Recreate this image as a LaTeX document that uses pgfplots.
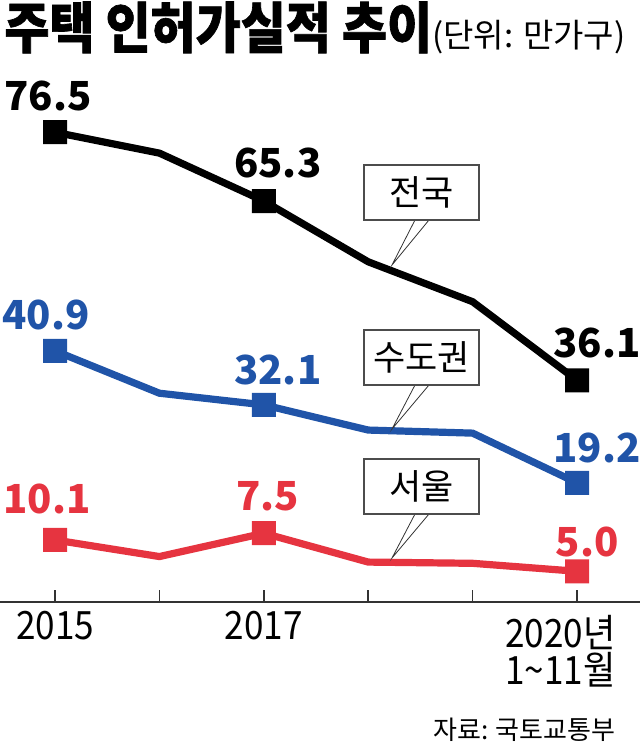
\documentclass[border=0pt]{standalone}
\usepackage{pgfplots}
\pgfplotsset{compat=1.18}
\usepackage{fontspec}
\setmainfont{Noto Sans CJK KR}
\newfontfamily\titlefont{Noto Sans CJK KR}[FakeStretch=0.89, FakeBold=1.2]
\newfontfamily\tickfont{Noto Sans CJK KR}[FakeStretch=0.9]

\definecolor{cblue}{RGB}{32,84,168}
\definecolor{cred}{RGB}{230,52,64}

% rounded square marker
\pgfdeclareplotmark{rsquare}{%
  \pgfsetcornersarced{\pgfpoint{1.6pt}{1.6pt}}%
  \pgfpathmoveto{\pgfqpoint{0pt}{-\pgfplotmarksize}}%
  \pgfpathlineto{\pgfqpoint{\pgfplotmarksize}{-\pgfplotmarksize}}%
  \pgfpathlineto{\pgfqpoint{\pgfplotmarksize}{\pgfplotmarksize}}%
  \pgfpathlineto{\pgfqpoint{-\pgfplotmarksize}{\pgfplotmarksize}}%
  \pgfpathlineto{\pgfqpoint{-\pgfplotmarksize}{-\pgfplotmarksize}}%
  \pgfpathclose
  \pgfusepathqfill}

\tikzset{
  lbl/.style={font=\fontsize{20}{24}\selectfont\bfseries, inner sep=0pt},
  callout/.style={line width=0.6pt, draw=black!70, fill=white},
}

\begin{document}
\begin{tikzpicture}
\path[use as bounding box] (0,-73.5pt) rectangle (320pt,301pt);
\begin{axis}[
  scale only axis, width=320pt, height=301pt,
  xmin=2014.473, xmax=2020.603, ymin=0, ymax=98.04,
  axis x line=bottom, axis y line=none,
  x axis line style={-, line width=0.8pt, color=black!80},
  xtick={2015,2016,2017,2018,2019,2020},
  xticklabels={2015,,2017,,,},
  xtick align=inside, major tick length=6pt,
  xtick style={line width=0.8pt, color=black!80},
  xticklabel style={font=\tickfont\fontsize{19.5}{22}\selectfont, yshift=-1pt},
  ytick=\empty,
  clip=false,
  every axis plot/.append style={line width=3.6pt, mark=rsquare,
    mark indices={1,3,6}, mark size=6pt, mark options={solid}},
]
\addplot[black] coordinates {
  (2015,76.5) (2016,73.1) (2017,65.3) (2018,55.4) (2019,48.9) (2020,36.1)
};
\addplot[cblue] coordinates {
  (2015,40.9) (2016,34.0) (2017,32.1) (2018,28.0) (2019,27.5) (2020,19.4)
};
\addplot[cred] coordinates {
  (2015,10.1) (2016,7.4) (2017,11.2) (2018,6.5) (2019,6.3) (2020,5.0)
};

\node[lbl, black, xshift=-3.5pt, yshift=18pt] at (axis cs:2015,76.5) {76.5};
\node[lbl, black, xshift=7pt, yshift=19pt] at (axis cs:2017,65.3) {65.3};
\node[lbl, black, xshift=10pt, yshift=18.5pt] at (axis cs:2020,36.1) {36.1};
\node[lbl, cblue, xshift=-4.5pt, yshift=18pt] at (axis cs:2015,40.9) {40.9};
\node[lbl, cblue, xshift=7pt, yshift=17.5pt] at (axis cs:2017,32.1) {32.1};
\node[lbl, cblue, xshift=10pt, yshift=17.5pt] at (axis cs:2020,19.4) {19.2};
\node[lbl, cred, xshift=-4pt, yshift=20.5pt] at (axis cs:2015,10.1) {10.1};
\node[lbl, cred, xshift=2pt, yshift=18.5pt] at (axis cs:2017,11.2) {7.5};
\node[lbl, cred, xshift=5pt, yshift=14.5pt] at (axis cs:2020,5.0) {5.0};
\end{axis}

% annotations in pixel units of the reference (origin top-left)
\begin{scope}[x=0.5pt, y=-0.5pt, shift={(0pt,301pt)}]
  \node[anchor=base west, inner sep=0pt] at (4,48)
    {{\titlefont\fontsize{27.5}{32}\selectfont\bfseries 주택 인허가실적 추이}{\fontsize{16.5}{18}\selectfont(단위: 만가구)}};

  \foreach \top/\tipy/\name in {165/265/전국, 330/429/수도권, 459/558/서울}{
    \pgfmathsetmacro{\bot}{\top+55}
    \fill[white] (415,\bot) -- (392,\tipy) -- (429,\bot) -- cycle;
    \draw[line width=0.4pt, black!80] (415,\bot) -- (392,\tipy) -- (429,\bot);
    \draw[callout] (364,\top) rectangle (479,\bot);
    \node[font=\fontsize{17.5}{20}\selectfont] at (421.5,\top+27.5) {\name};
  }

  \node[anchor=north east, align=right, inner sep=0pt,
        font=\tickfont\fontsize{19.5}{18.5}\selectfont] at (616,615) {2020년\\1\textasciitilde11월};
  \node[anchor=east, inner sep=0pt, font=\fontsize{13}{15}\selectfont]
    at (616,730) {자료: 국토교통부};
\end{scope}
\end{tikzpicture}
\end{document}
